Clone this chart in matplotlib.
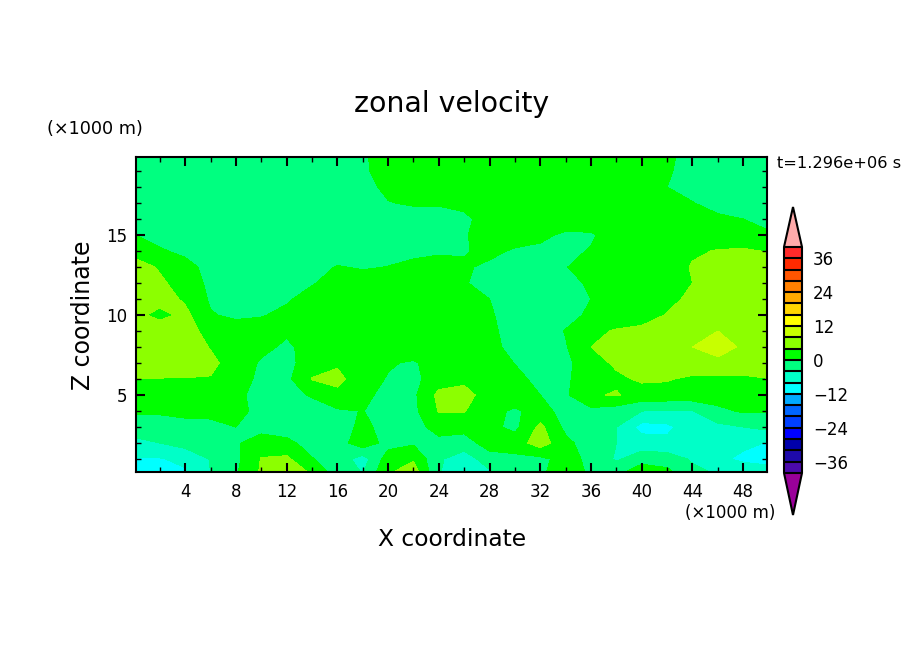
import numpy as np
import matplotlib
matplotlib.use("Agg")
import matplotlib.pyplot as plt
from matplotlib.colors import ListedColormap, BoundaryNorm

# km
x = [0.125, 2, 4, 6, 8, 10, 12, 14, 16, 18, 20, 22, 24, 26, 28, 30, 32, 34, 36, 38, 40, 42, 44, 46, 48, 49.875]
z = [19.875, 19, 18, 17, 16, 15, 14, 13, 12, 11, 10, 9, 8, 7, 6, 5, 4, 3, 2, 1, 0.19]

# zonal velocity, top row first
u = [
    [-3, -3, -3, -3, -3, -3, -3, -3, -3, -0.6, 2, 3, 3, 3, 3, 3, 3, 3, 3, 3, 3, 1, -2, -3, -3, -3],
    [-3, -3, -3, -3, -3, -3, -3, -3, -3, -0.8, 2, 3, 3, 3, 3, 3, 3, 3, 3, 3, 3, 0.6, -2, -3, -3, -3],
    [-3, -3, -3, -3, -3, -3, -3, -3, -3, -1.5, 1, 3, 3, 3, 3, 3, 3, 3, 3, 3, 3, 0, -2, -3, -3, -3],
    [-3, -3, -3, -3, -3, -3, -3, -3, -3, -2, -0.2, 0.5, 0.5, 0.6, 1.5, 3, 3, 3, 3, 3, 3, 1.5, 0.2, -2, -3, -3],
    [-3, -3, -3, -3, -3, -3, -3, -3, -3, -3, -2, -2, -2, -0.5, 1, 2, 2.5, 2.5, 2.5, 2.5, 2.5, 2, 1.5, 1, 0, -1],
    [0, -1.5, -2, -3, -3, -3, -3, -3, -3, -3, -2, -1.5, -1, -0.3, 1.5, 2, 1, -0.8, -0.5, 2, 2.5, 2.5, 2.5, 2, 1.5, 0.5],
    [2, 0.5, -1, -2, -3, -3, -3, -3, -3, -2, -1.5, -1, -0.5, -0.3, 1, -0.5, -1, -1, 0.3, 2, 2.5, 2.5, 3.5, 4.2, 4.5, 3.8],
    [6, 3.5, 1.5, -1.5, -2, -2, -2, -2, 0.3, -0.5, 0.1, 1, 1.5, 0.5, -0.8, -1.5, -1.5, -0.2, 2, 2, 2, 2, 4.3, 6, 6.5, 6],
    [7, 4.8, 2, -0.8, -2, -2, -2, -0.3, 1.5, 2.5, 2.5, 2.5, 2.5, 0.3, -1.5, -2, -2, -1, 0.5, 2, 2, 2.5, 4, 6.5, 7, 6.5],
    [7, 5.5, 3.5, -0.5, -1, -1, -0.5, 1.5, 2.5, 2.5, 2.5, 2.5, 2.5, 2.5, 0, -2, -2, -2, 0, 2, 2.5, 3, 4.8, 6.5, 7, 7],
    [5, 2.8, 5, 0.3, -0.8, -0.3, 1, 2.5, 2.5, 2.5, 2.5, 2.5, 2.5, 2.5, 0.5, -2, -2, -1.5, 0.8, 2, 2.5, 4.2, 6, 6.5, 7, 7],
    [7, 6.5, 5.5, 2.7, 2, 2, 0.6, 2.5, 2.5, 2.5, 2.5, 2.5, 2.5, 2.5, 0.8, -1.5, -2, 0.2, 3.2, 4.3, 4.8, 6, 7, 8, 7, 6.5],
    [6.5, 7, 6, 3.8, 2, 1, -0.7, 1.5, 2.5, 2.5, 2.5, 2.5, 2.5, 2.5, 1.2, -1.3, -2, -0.3, 4, 6, 6.5, 7, 8, 9.5, 7.5, 6.5],
    [7, 7, 6.5, 4.8, 2.5, -0.5, -1.2, 2, 3.5, 2, 0.4, -0.5, 2, 2, 2, -0.1, -2, -1, 2.5, 4.6, 6, 6.5, 6.8, 7, 6.5, 6],
    [3.8, 3.8, 3.8, 3.8, 2, -1, -1, 4.2, 5, 1.8, -0.3, -1, 2, 3, 2, 1, -1, -0.7, 2.5, 3.3, 4.5, 4.3, 3.2, 3.2, 3.2, 3.9],
    [2.5, 2.5, 2.5, 2.5, 1, -1.5, -1, 0.3, 3, 0.8, -1, -0.8, 5, 5.5, 2, 2, 0, -0.6, 3.6, 4.3, 2.5, 2.5, 2.5, 2, 2, 2],
    [0.5, 0.6, 0.8, 1, 1, -1, -2, -1.5, -0.5, 0.1, -1.5, -1, 4.2, 4.2, 1, -0.5, 1.3, -1.3, -1, -2, -4, -4.2, -4.2, -1, 0.5, 0.3],
    [-2, -2, -1, -1, 0, -1.5, -2, -2, -2, 1, -1.5, -2, 2, 1.5, 1, -1, 5, -1, -2, -4, -9.5, -9, -5.5, -5, -4, -3],
    [-5, -4, -2.5, -2, -0.5, 2, 1, -1.5, -2, 2.5, -1.5, -0.5, -1.5, -2, 2, 2, 6, 1, -2, -4, -6, -7, -7, -7, -7, -8.2],
    [-8.3, -8.3, -7, -3.8, -1, 4.2, 4.8, 0.2, -1.5, -6, 2, 3.5, -3.5, -6, -2, -1, -1, 1.5, -1, -4.5, -2, -2, -4.5, -7, -9, -10.5],
    [-10.5, -10.5, -8.5, -4, -0.5, 4.5, 8.5, 3, -2, -4.2, 3.5, 6, -3.8, -6, -4.5, -1.5, -1, 3, -1, -1.5, 3, 1, -3, -4.5, -5, -5],
]

levels = np.arange(-40, 44, 4)
cb_ticks = [-36, -24, -12, 0, 12, 24, 36]
band_colors = ["#4b0aaa", "#1e0aaa", "#0000aa", "#0000ff", "#0040ff", "#0066ff", "#00aaff", "#00ffff",
               "#00ffc8", "#00ff80", "#00ff00", "#8cff00", "#c8ff00", "#ffff00", "#ffd500", "#ffaa00",
               "#ff8000", "#ff5500", "#ff2a00", "#ff2a2a"]
under_color = "#990099"
over_color = "#ffaaaa"

W, H = 904, 654
fig = plt.figure(figsize=(W/100, H/100), dpi=100)
ax = fig.add_axes([136/W, 1-472/H, (767-136)/W, (472-157)/H])

cmap = ListedColormap(band_colors)
cmap.set_under(under_color)
cmap.set_over(over_color)
norm = BoundaryNorm(levels, cmap.N)
cf = ax.contourf(x, z, u, levels=levels, cmap=cmap, norm=norm, extend="both", antialiased=False)

ax.set_xlim(0.125, 49.875)
ax.set_ylim(0.19, 19.875)
ax.set_xticks(np.arange(4, 50, 4))
ax.set_xticks(np.arange(2, 50, 2), minor=True)
ax.set_yticks([5, 10, 15])
ax.set_yticks(np.arange(1, 20), minor=True)
ax.tick_params(which="major", direction="in", length=6.5, width=1.5, top=True, right=True, labelsize=12)
ax.tick_params(which="minor", direction="in", length=3.5, width=1, top=True, right=True)
ax.tick_params(axis="x", which="major", pad=8)
ax.tick_params(axis="y", which="major", pad=6)
for s in ax.spines.values():
    s.set_linewidth(1.5)

fig.text(452/W, 1-104/H, "zonal velocity", fontsize=20.4, ha="center", va="center")
fig.text(452/W, 1-539/H, "X coordinate", fontsize=16.8, ha="center", va="center")
fig.text(83/W, 1-315/H, "Z coordinate", fontsize=17, rotation=90, ha="center", va="center")
fig.text(47/W, 1-129/H, "(×1000 m)", fontsize=12.7, ha="left", va="center")
fig.text(685/W, 1-513/H, "(×1000 m)", fontsize=12, ha="left", va="center")
fig.text(777/W, 1-163/H, "t=1.296e+06 s", fontsize=11.7, ha="left", va="center")

# cax holds the bar and both end triangles
cax = fig.add_axes([784/W, 1-515/H, 18/W, 308/H])
cb = fig.colorbar(cf, cax=cax, extend="both", extendfrac=[42/226, 40/226], drawedges=True, ticks=cb_ticks)
cb.outline.set_linewidth(1.5)
cb.dividers.set_linewidth(1.5)
cb.dividers.set_color("black")
cax.tick_params(length=0, labelsize=12, pad=8)
cax.minorticks_off()

plt.savefig("out.png", dpi=100)
